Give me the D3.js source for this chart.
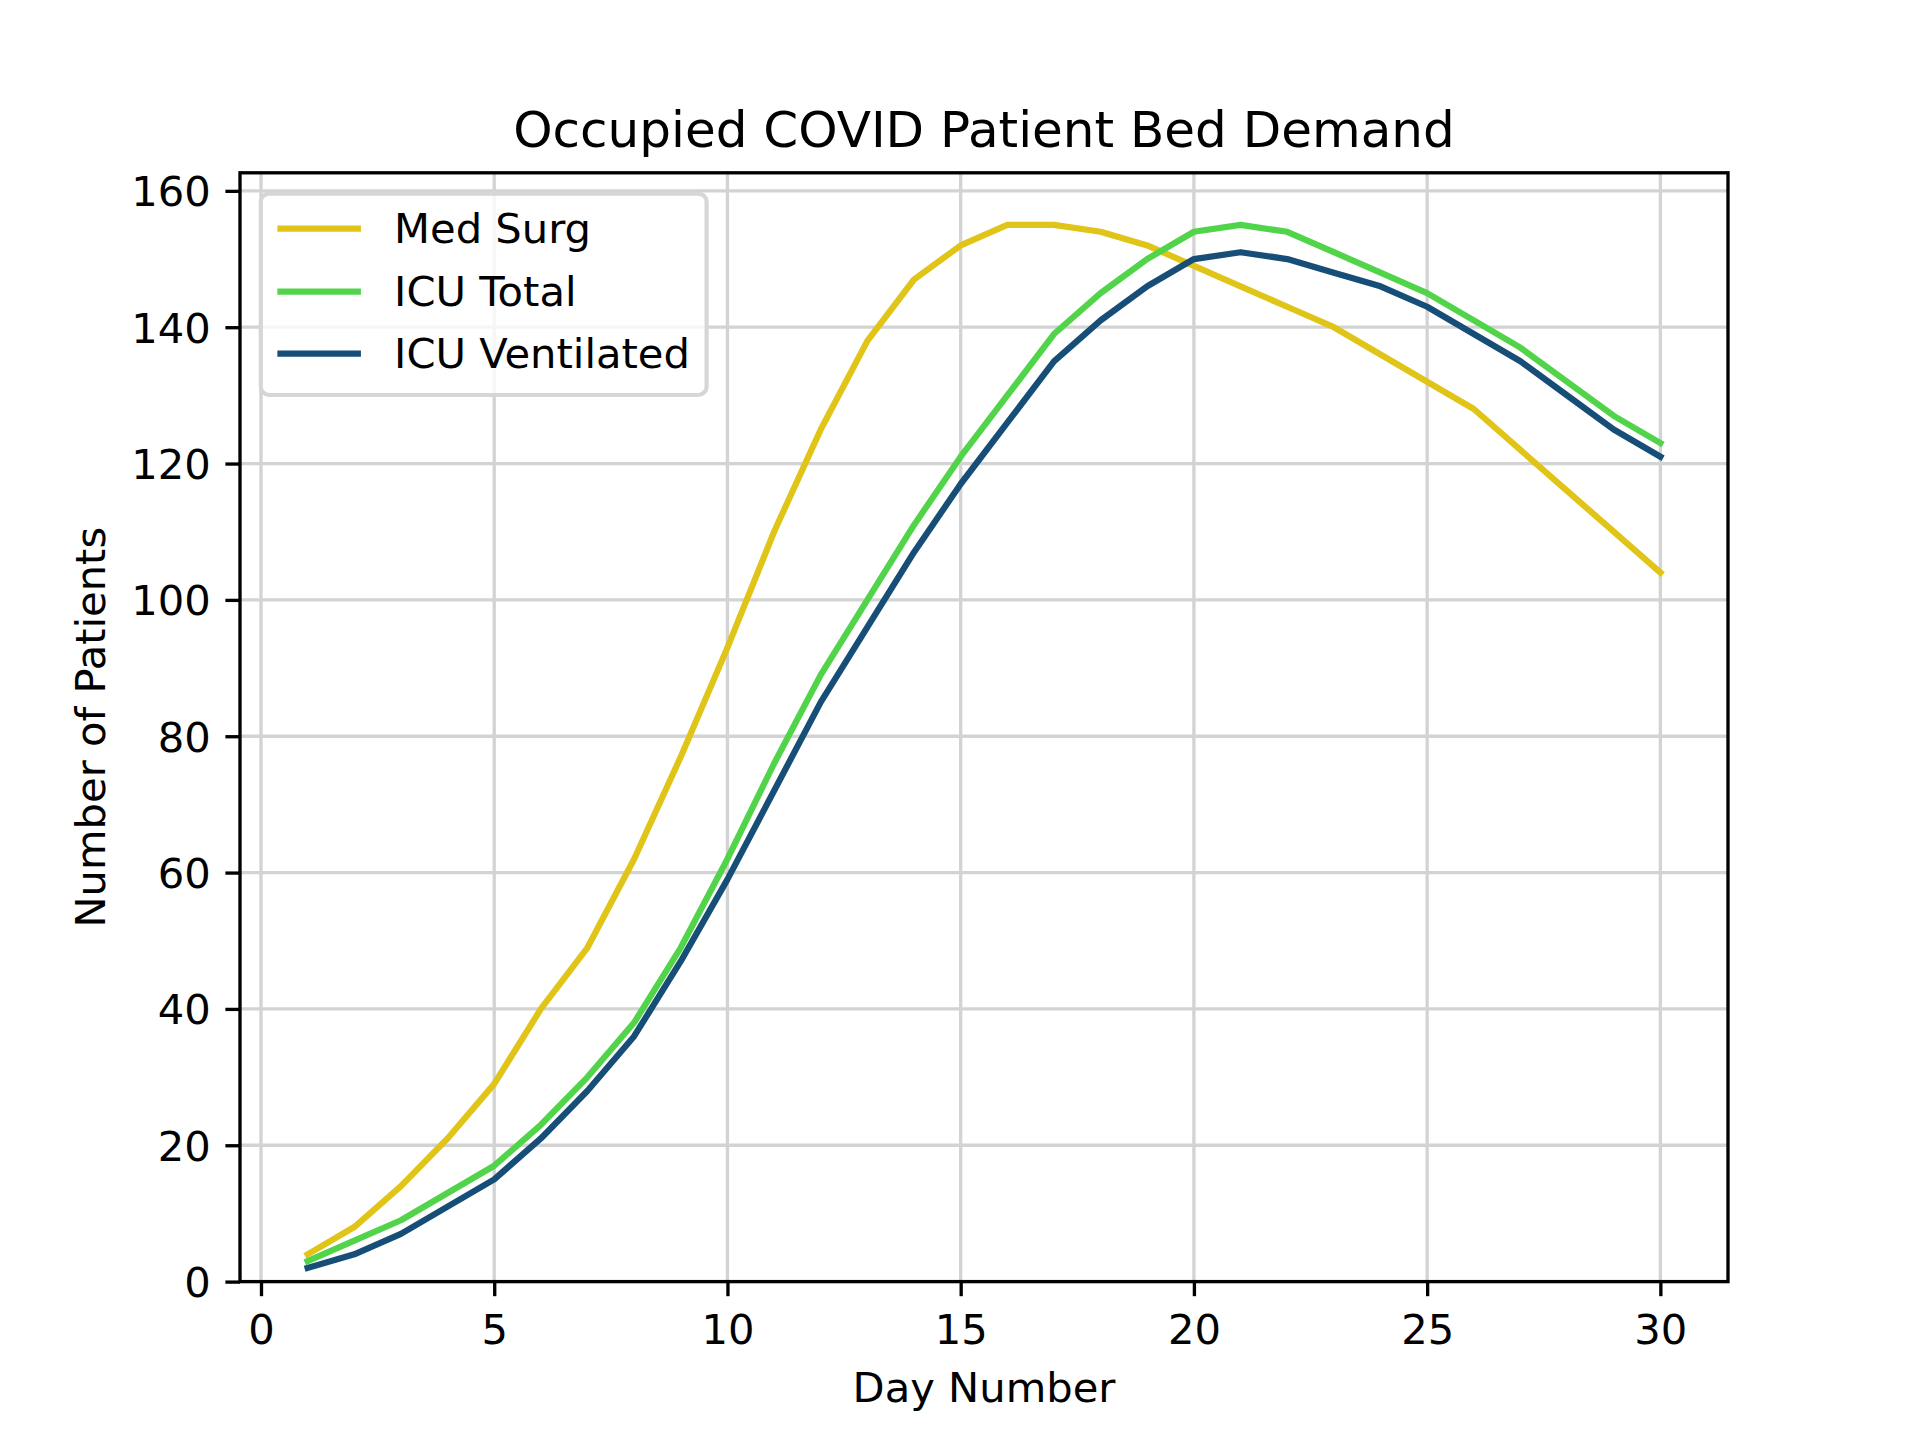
<!DOCTYPE html>
<html>
<head>
<meta charset="utf-8">
<script src="https://cdn.jsdelivr.net/npm/d3@7"></script>
<style>
  html, body { margin: 0; padding: 0; background: #fff; }
  svg { display: block; }
  text { font-family: "DejaVu Sans", sans-serif; fill: #000; }
</style>
</head>
<body>
<svg id="chart" width="1920" height="1440"></svg>
<script>
const days = d3.range(1, 31);
const medSurg = [4, 8, 14, 21, 29, 40, 49, 62, 77, 93, 110, 125, 138, 147, 152, 155, 155, 154, 152, 149, 146, 143, 140, 136, 132, 128, 122, 116, 110, 104];
const icuTotal = [3, 6, 9, 13, 17, 23, 30, 38, 49, 62, 76, 89, 100, 111, 121, 130, 139, 145, 150, 154, 155, 154, 151, 148, 145, 141, 137, 132, 127, 123];
const icuVent = [2, 4, 7, 11, 15, 21, 28, 36, 47, 59, 72, 85, 96, 107, 117, 126, 135, 141, 146, 150, 151, 150, 148, 146, 143, 139, 135, 130, 125, 121];
const seriesNames = ["Med Surg", "ICU Total", "ICU Ventilated"];
const seriesColors = ["#E0C418", "#52D44A", "#174E78"];
const xTicks = [0, 5, 10, 15, 20, 25, 30];
const yTicks = [0, 20, 40, 60, 80, 100, 120, 140, 160];
const titleText = "Occupied COVID Patient Bed Demand";
const xLabelText = "Day Number";
const yLabelText = "Number of Patients";

const series = [medSurg, icuTotal, icuVent];

const W = 1920, H = 1440;
const L = 240, R = 1728, T = 172.8, B = 1281.6;
const fs = 41.67;
const svg = d3.select("#chart");

const x = d3.scaleLinear().domain([-0.45, 31.45]).range([L, R]);
const y = d3.scaleLinear().domain([0, 162.65]).range([B, T]);

// grid
const grid = svg.append("g");
grid.selectAll("line.gx").data(xTicks).enter().append("line")
  .attr("x1", d => x(d)).attr("x2", d => x(d)).attr("y1", T).attr("y2", B)
  .attr("stroke", "#d3d3d3").attr("stroke-width", 3.33);
grid.selectAll("line.gy").data(yTicks).enter().append("line")
  .attr("y1", d => y(d)).attr("y2", d => y(d)).attr("x1", L).attr("x2", R)
  .attr("stroke", "#d3d3d3").attr("stroke-width", 3.33);

// lines
const clip = svg.append("clipPath").attr("id", "clip").append("rect")
  .attr("x", L).attr("y", T).attr("width", R - L).attr("height", B - T);
const lineGen = d3.line().x((d, i) => x(days[i])).y(d => y(d));
series.forEach((s, k) => {
  svg.append("path").datum(s)
    .attr("d", lineGen)
    .attr("fill", "none")
    .attr("stroke", seriesColors[k])
    .attr("stroke-width", 6.25)
    .attr("stroke-linejoin", "round")
    .attr("stroke-linecap", "square")
    .attr("clip-path", "url(#clip)");
});

// axes
const xAxis = d3.axisBottom(x).tickValues(xTicks).tickSize(14.6).tickPadding(14.6).tickFormat(d3.format("d"));
const yAxis = d3.axisLeft(y).tickValues(yTicks).tickSize(14.6).tickPadding(14.6).tickFormat(d3.format("d"));
const gx = svg.append("g").attr("transform", `translate(0,${B})`).call(xAxis);
const gy = svg.append("g").attr("transform", `translate(${L},0)`).call(yAxis);
[gx, gy].forEach(g => {
  g.select(".domain").remove();
  g.selectAll(".tick line").attr("stroke", "#000").attr("stroke-width", 3.33);
  g.selectAll(".tick text").attr("font-size", fs).attr("font-family", "DejaVu Sans").attr("fill", "#000");
});
gx.selectAll(".tick text").attr("dy", null).attr("y", 62.4);
gy.selectAll(".tick text").attr("dy", null).attr("y", 15);

// spines
svg.append("rect").attr("x", L).attr("y", T).attr("width", R - L).attr("height", B - T)
  .attr("fill", "none").attr("stroke", "#000").attr("stroke-width", 3.33);

// title and labels
svg.append("text").attr("x", (L + R) / 2).attr("y", 147).attr("text-anchor", "middle")
  .attr("font-size", 50).text(titleText);
svg.append("text").attr("x", (L + R) / 2).attr("y", 1402).attr("text-anchor", "middle")
  .attr("font-size", fs).text(xLabelText);
svg.append("text").attr("transform", `translate(105,${(T + B) / 2}) rotate(-90)`)
  .attr("text-anchor", "middle").attr("font-size", fs).text(yLabelText);

// legend
const legend = svg.append("g");
const frameX = L + 20.8, frameY = T + 20.8;
const handleX0 = frameX + 16.7, handleX1 = handleX0 + 83.3;
const textX = handleX1 + 33.3;
const rowY = [228.7, 291.5, 353.7];
const frame = legend.append("rect").attr("x", frameX).attr("y", frameY)
  .attr("rx", 8.3).attr("ry", 8.3)
  .attr("fill", "rgba(255,255,255,0.8)").attr("stroke", "#d6d6d6").attr("stroke-width", 4.17);
let maxW = 0;
seriesNames.forEach((name, k) => {
  legend.append("line").attr("x1", handleX0 + 3).attr("x2", handleX1 - 3)
    .attr("y1", rowY[k]).attr("y2", rowY[k])
    .attr("stroke", seriesColors[k]).attr("stroke-width", 6.25).attr("stroke-linecap", "square");
  const t = legend.append("text").attr("x", textX).attr("y", rowY[k] + 14.5)
    .attr("font-size", fs).text(name);
  maxW = Math.max(maxW, t.node().getComputedTextLength());
});
frame.attr("width", textX + maxW + 16.7 - frameX).attr("height", 395 - frameY);
</script>
</body>
</html>
